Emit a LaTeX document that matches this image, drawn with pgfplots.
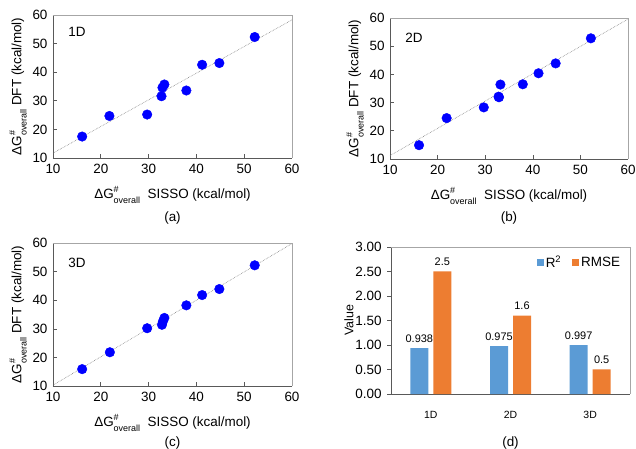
\documentclass[border=0pt]{standalone}
\usepackage{pgfplots}
\pgfplotsset{compat=1.18}
\usepackage{fontspec}
\setmainfont{Liberation Sans}
\definecolor{ptblue}{RGB}{0,0,255}
\definecolor{rsq}{HTML}{5B9BD5}
\definecolor{rmse}{HTML}{ED7D31}
\definecolor{axdark}{HTML}{595959}
\definecolor{axlight}{HTML}{A6A6A6}
\newcommand{\fs}{\fontsize{13.5}{15}\selectfont}
\newcommand{\sm}{\fontsize{9}{9}\selectfont}
\newcommand{\dG}{ΔG\rlap{\raisebox{0.45em}{\sm\#}}\raisebox{-0.4em}{\sm overall}}

\pgfplotsset{
  frame/.style={
    scale only axis,
    axis x line*=bottom, axis y line*=left,
    axis line style={axdark, line width=0.75bp},
    tick style={axdark, line width=0.6bp},
    major tick length=4bp,
    ticklabel style={font=\fs},
    yticklabel style={xshift=-2bp},
    /pgf/number format/assume math mode=true,
    label style={font=\fs},
    xlabel style={at={([yshift=-37bp]rel axis cs:0.5,0)}, anchor=center},
    ylabel style={at={([xshift=-35bp]rel axis cs:0,0.5)}, anchor=center},
    clip=false,
  },
  scat/.style={
    frame,
    width=239bp, height=143bp,
    xmin=10, xmax=60, ymin=10, ymax=60,
    xtick={10,20,...,60}, ytick={10,20,...,60},
    xticklabel style={yshift=-3bp},
    tick align=inside,
    xlabel={\dG\ \ SISSO (kcal/mol)},
    ylabel={\dG\ DFT (kcal/mol)},
  },
  pts/.style={only marks, mark=*, mark size=4.8bp, color=ptblue},
  fit/.style={gray, densely dotted, line width=0.6bp},
}
\newcommand{\closebox}{\draw[axlight, line width=0.75bp] (rel axis cs:0,1) -- (rel axis cs:1,1) -- (rel axis cs:1,0);}

\begin{document}
\begin{tikzpicture}
\path[use as bounding box] (0,0) rectangle (636bp,449bp);

% (a) 1D
\begin{axis}[scat, at={(53bp,291bp)}, anchor=south west]
\addplot[fit] coordinates {(10,11.7) (60,58.3)};
\addplot[pts] coordinates {
(16.1,17.5) (21.8,24.7) (29.7,25.2) (32.7,31.6) (32.9,34.6)
(33.3,35.7) (37.9,33.6) (41.2,42.6) (44.8,43.2) (52.2,52.3)};
\closebox
\node[font=\fs, anchor=west] at (rel axis cs:0.05,0.88) {1D};
\node[font=\fs] at ([yshift=-60bp]rel axis cs:0.5,0) {(a)};
\end{axis}

% (b) 2D
\begin{axis}[scat, at={(390bp,290bp)}, anchor=south west, width=238bp, height=141bp]
\addplot[fit] coordinates {(10,11.2) (60,59.6)};
\addplot[pts] coordinates {
(16.1,14.9) (21.9,24.5) (29.7,28.3) (32.8,32.1) (32.9,31.9)
(33.2,36.4) (37.9,36.5) (41.2,40.4) (44.8,43.9) (52.2,52.8)};
\closebox
\node[font=\fs, anchor=west] at (rel axis cs:0.05,0.86) {2D};
\node[font=\fs] at ([yshift=-59bp]rel axis cs:0.5,0) {(b)};
\end{axis}

% (c) 3D
\begin{axis}[scat, at={(53bp,63bp)}, anchor=south west]
\addplot[fit] coordinates {(10,10.3) (60,59.8)};
\addplot[pts] coordinates {
(16.1,15.9) (21.9,21.8) (29.7,30.2) (32.8,31.4) (33.0,32.6)
(33.3,33.8) (37.9,38.2) (41.2,41.8) (44.8,43.9) (52.2,52.2)};
\closebox
\node[font=\fs, anchor=west] at (rel axis cs:0.05,0.86) {3D};
\node[font=\fs] at ([yshift=-57bp]rel axis cs:0.5,0) {(c)};
\end{axis}

% (d) metrics
\begin{axis}[frame, at={(391bp,55bp)}, anchor=south west,
  width=239bp, height=147bp,
  ybar=5bp, bar width=18bp,
  xmin=-0.5, xmax=2.5, ymin=0, ymax=3,
  xtick=\empty,
  ytick={0,0.5,...,3},
  yticklabel style={/pgf/number format/.cd, fixed, fixed zerofill, precision=2},
  tick align=outside,
  ylabel={Value},
  ylabel style={at={([xshift=-42bp]rel axis cs:0,0.5)}, font=\fontsize{12.5}{14}\selectfont},
  legend columns=2,
  legend style={at={(rel axis cs:0.98,0.97)}, anchor=north east, draw=none, fill=none,
    font=\fs, /tikz/every even column/.append style={column sep=9bp}},
  legend image code/.code={\fill[#1] (0bp,-3.5bp) rectangle (7bp,3.5bp);},
  every node near coord/.append style={font=\fontsize{11}{13}\selectfont, black, yshift=2bp},
]
\addplot[fill=rsq, draw=none,
  nodes near coords={\pgfmathprintnumber[fixed,fixed zerofill,precision=3,assume math mode=true]{\pgfplotspointmeta}}]
  coordinates {(0,0.938) (1,0.975) (2,0.997)};
\addplot[fill=rmse, draw=none,
  nodes near coords={\pgfmathprintnumber[fixed,precision=1,assume math mode=true]{\pgfplotspointmeta}}]
  coordinates {(0,2.5) (1,1.6) (2,0.5)};
\legend{R\textsuperscript{2}, RMSE}
\closebox
\node[font=\fontsize{10.5}{12}\selectfont] at ([yshift=-21bp]axis cs:0,0) {1D};
\node[font=\fontsize{10.5}{12}\selectfont] at ([yshift=-21bp]axis cs:1,0) {2D};
\node[font=\fontsize{10.5}{12}\selectfont] at ([yshift=-21bp]axis cs:2,0) {3D};
\node[font=\fs] at ([yshift=-49bp]rel axis cs:0.5,0) {(d)};
\end{axis}
\end{tikzpicture}
\end{document}
